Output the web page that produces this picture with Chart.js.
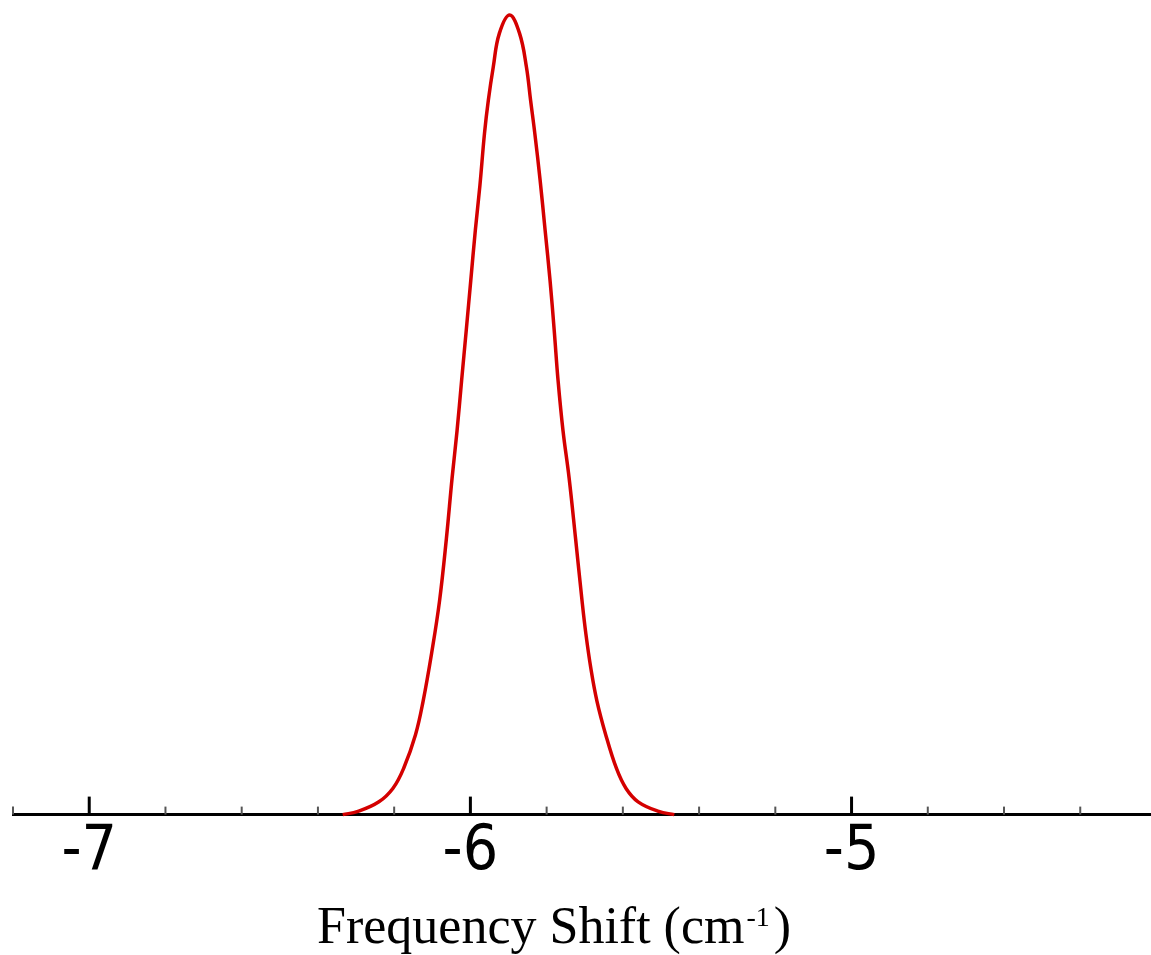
<!DOCTYPE html>
<html>
<head>
<meta charset="utf-8">
<script src="https://cdn.jsdelivr.net/npm/chart.js@4.4.1/dist/chart.umd.min.js"></script>
<style>
  html, body { margin: 0; padding: 0; background: #fff; }
  #wrap { width: 1151px; height: 955px; position: relative; }
</style>
</head>
<body>
<div id="wrap"><canvas id="spectrum"></canvas></div>
<script>
// frequency shift (cm-1)
const shift = [-6.335, -6.295, -6.240, -6.203, -6.175, -6.144, -6.124, -6.101, -6.081, -6.063,
  -6.048, -6.035, -6.023, -6.011, -5.999, -5.987, -5.975, -5.963, -5.953, -5.940, -5.924, -5.897,
  -5.871, -5.853, -5.842, -5.831, -5.817, -5.804, -5.791, -5.780, -5.770, -5.757, -5.741, -5.724,
  -5.707, -5.697, -5.684, -5.668, -5.645, -5.617, -5.592, -5.560, -5.506, -5.465];
// normalised intensity
const intensity = [0, 0.004, 0.016, 0.033, 0.058, 0.100, 0.142, 0.204, 0.267, 0.345,
  0.421, 0.480, 0.543, 0.605, 0.668, 0.731, 0.787, 0.852, 0.893, 0.935, 0.977, 1.0,
  0.977, 0.935, 0.893, 0.852, 0.793, 0.731, 0.668, 0.605, 0.543, 0.480, 0.421, 0.345,
  0.267, 0.226, 0.183, 0.142, 0.100, 0.058, 0.033, 0.016, 0.004, 0];
const majorTicks = [-7, -6, -5];
const axisTitle = ['Frequency Shift (cm', '-1', ')'];

const xMin = -7.2, xMax = -4.217;

// ticks point up into the plot, like the original
const innerTicks = {
  id: 'innerTicks',
  afterDraw(chart) {
    const sx = chart.scales.x;
    const ctx = chart.ctx;
    const base = chart.chartArea.bottom;
    ctx.save();
    for (let k = Math.round(xMin * 5); k <= Math.round(xMax * 5); k++) {
      const v = k / 5;
      const px = sx.getPixelForValue(v);
      const major = majorTicks.includes(v);
      ctx.beginPath();
      ctx.strokeStyle = major ? '#000' : '#555';
      ctx.lineWidth = major ? 3 : 2;
      ctx.moveTo(px, base);
      ctx.lineTo(px, base - (major ? 18 : 8));
      ctx.stroke();
    }
    ctx.restore();
  }
};

// axis title with a real superscript
const axisTitlePlugin = {
  id: 'axisTitle',
  afterDraw(chart) {
    const ctx = chart.ctx;
    const y = chart.height - 12;
    let x = 317;
    ctx.save();
    ctx.fillStyle = '#000';
    ctx.textBaseline = 'alphabetic';
    ctx.textAlign = 'left';
    ctx.font = "52px 'Liberation Serif', 'Times New Roman', serif";
    ctx.fillText(axisTitle[0], x, y);
    x += ctx.measureText(axisTitle[0]).width + 2;
    ctx.font = "28px 'Liberation Serif', 'Times New Roman', serif";
    ctx.fillText(axisTitle[1], x, y - 17);
    x += ctx.measureText(axisTitle[1]).width + 4;
    ctx.font = "52px 'Liberation Serif', 'Times New Roman', serif";
    ctx.fillText(axisTitle[2], x, y);
    ctx.restore();
  }
};

new Chart(document.getElementById('spectrum').getContext('2d'), {
  type: 'line',
  data: {
    datasets: [{
      data: shift.map((s, i) => ({ x: s, y: intensity[i] })),
      borderColor: '#d40000',
      borderWidth: 3.5,
      pointRadius: 0,
      tension: 0.4,
      fill: false,
      clip: false
    }]
  },
  options: {
    responsive: true,
    maintainAspectRatio: false,
    animation: false,
    layout: { padding: { top: 15, left: 13, right: 0, bottom: 64 } },
    plugins: { legend: { display: false }, tooltip: { enabled: false } },
    scales: {
      x: {
        type: 'linear',
        min: xMin,
        max: xMax,
        grid: { display: false, drawTicks: false },
        border: { display: true, color: '#000', width: 3 },
        ticks: {
          stepSize: 0.2,
          autoSkip: false,
          maxRotation: 0,
          padding: 1,
          color: '#000',
          font: { family: "'Liberation Sans Narrow', 'DejaVu Sans Condensed', 'Liberation Sans', sans-serif", size: 62 },
          callback: (v) => majorTicks.includes(Math.round(v * 100) / 100) ? String(Math.round(v)) : ''
        },
        title: { display: false }
      },
      y: { display: false, min: 0, max: 1 }
    }
  },
  plugins: [innerTicks, axisTitlePlugin]
});
</script>
</body>
</html>
